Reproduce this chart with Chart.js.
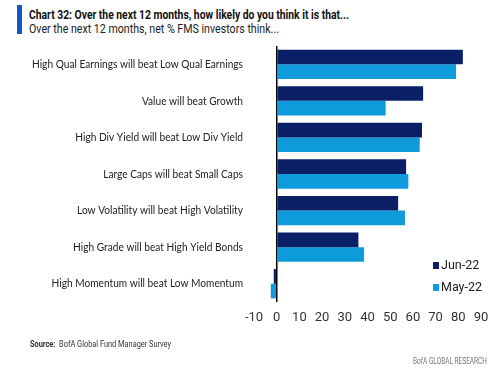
<!DOCTYPE html>
<html>
<head>
<meta charset="utf-8">
<script src="https://cdn.jsdelivr.net/npm/chart.js@4"></script>
<style>
  body { margin: 0; width: 500px; height: 370px; background: #fff; position: relative; overflow: hidden; font-family: Roboto, sans-serif; }
  .bar { position: absolute; left: 17px; top: 5px; width: 5px; height: 29px; background: #1356c8; }
  .fit { position: absolute; white-space: nowrap; transform-origin: 0 0; }
  .title { left: 29px; top: 7px; font-size: 12.5px; font-weight: bold; color: #111; }
  .subtitle { left: 29px; top: 21px; font-size: 12.5px; color: #222; }
  .chart-container { position: absolute; left: 0; top: 0; width: 500px; height: 370px; }
  .legend { position: absolute; left: 433px; font-family: Roboto, sans-serif; font-size: 12.5px; color: #222; white-space: nowrap; }
  .legend span { display: inline-block; width: 6px; height: 7px; margin-right: 2px; }
  .source { left: 30px; top: 339px; font-size: 9px; color: #333; }
  .brand { left: 413px; top: 356px; font-size: 9px; color: #777; }
</style>
</head>
<body>
<div class="bar"></div>
<div class="fit title" data-w="320">Chart 32: Over the next 12 months, how likely do you think it is that...</div>
<div class="fit subtitle" data-w="250">Over the next 12 months, net % FMS investors think...</div>
<div class="chart-container"><canvas id="chart"></canvas></div>
<div class="legend" style="top:257px"><span style="background:#0b1f66"></span>Jun-22</div>
<div class="legend" style="top:279px"><span style="background:#0f9bdb"></span>May-22</div>
<div class="fit source" data-w="141"><b>Source:</b>&nbsp; BofA Global Fund Manager Survey</div>
<div class="fit brand" data-w="74">BofA GLOBAL RESEARCH</div>
<script>
const categories = [
  "High Qual Earnings will beat Low Qual Earnings",
  "Value will beat Growth",
  "High Div Yield will beat Low Div Yield",
  "Large Caps will beat Small Caps",
  "Low Volatility will beat High Volatility",
  "High Grade will beat High Yield Bonds",
  "High Momentum will beat Low Momentum"
];
const jun22 = [82, 64.5, 64, 57, 53.5, 36, -1.3];
const may22 = [79, 48, 63, 58, 56.5, 38.5, -2.6];
const xTicks = [-10, 0, 10, 20, 30, 40, 50, 60, 70, 80, 90];

// squeeze html text to the condensed widths of the original
document.querySelectorAll(".fit").forEach(el => {
  const w = el.getBoundingClientRect().width;
  el.style.transform = "scaleX(" + (el.dataset.w / w) + ")";
});

// category labels drawn by hand so they can be condensed like the original font
const catLabels = {
  id: "catLabels",
  afterDraw(chart) {
    const ctx = chart.ctx;
    const yScale = chart.scales.y;
    const right = 243;
    ctx.save();
    ctx.font = "11.5px Lato";
    ctx.fillStyle = "#222";
    ctx.textAlign = "right";
    ctx.textBaseline = "middle";
    const sx = 211 / ctx.measureText(categories[0]).width;
    categories.forEach((label, i) => {
      ctx.save();
      ctx.translate(right, yScale.getPixelForValue(i));
      ctx.scale(sx, 1);
      ctx.fillText(label, 0, 0);
      ctx.restore();
    });
    ctx.restore();
  }
};

const data = {
  labels: categories,
  datasets: [
    { label: "Jun-22", backgroundColor: "#0b1f66", data: jun22 },
    { label: "May-22", backgroundColor: "#0f9bdb", data: may22 }
  ]
};

const options = {
  indexAxis: "y",
  responsive: true,
  maintainAspectRatio: false,
  animation: false,
  datasets: { bar: { categoryPercentage: 0.8, barPercentage: 1.0 } },
  layout: { padding: { top: 46, right: 19, bottom: 38, left: 0 } },
  plugins: { legend: { display: false }, tooltip: { enabled: false } },
  scales: {
    x: {
      min: -10,
      max: 90,
      afterFit: (scale) => { scale.height = 30; },
      afterBuildTicks: (scale) => { scale.ticks = xTicks.map(v => ({ value: v })); },
      ticks: { color: "#333", padding: 8, maxRotation: 0, autoSkip: false, font: { family: "Roboto", size: 13 } },
      grid: {
        drawTicks: false,
        color: (ctx) => (ctx.tick && ctx.tick.value === 0 ? "#000" : "rgba(0,0,0,0)"),
        lineWidth: 1.5
      },
      border: { display: false }
    },
    y: {
      afterFit: (scale) => { scale.width = 254; },
      ticks: { display: false },
      grid: { display: false, drawTicks: false },
      border: { display: false }
    }
  }
};

const ctx = document.getElementById("chart").getContext("2d");
new Chart(ctx, { type: "bar", data: data, options: options, plugins: [catLabels] });
</script>
</body>
</html>
